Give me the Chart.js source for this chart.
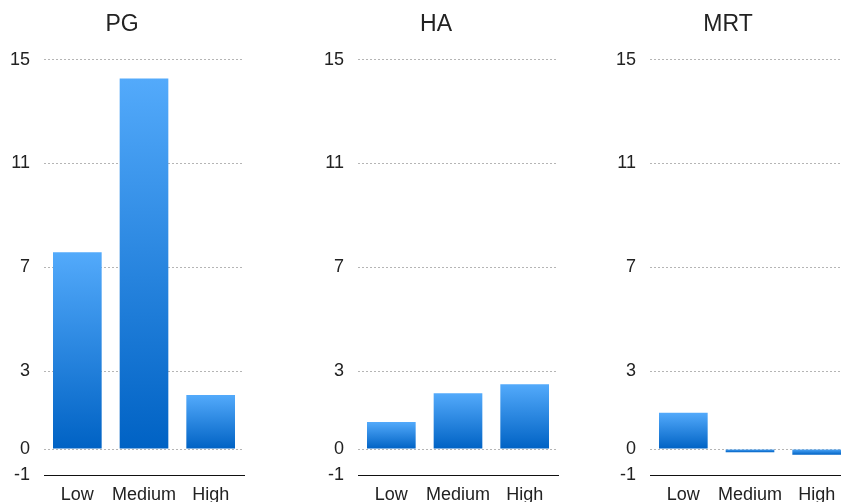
<!DOCTYPE html>
<html>
<head>
<meta charset="utf-8">
<script src="https://cdn.jsdelivr.net/npm/chart.js@4"></script>
<style>
  html, body { margin: 0; padding: 0; background: #fff; overflow: hidden; width: 841px; height: 502px; }
  .panel { position: absolute; top: 0; width: 288px; height: 520px; }
</style>
</head>
<body>
<div class="panel" style="left:0px"><canvas id="c0"></canvas></div>
<div class="panel" style="left:314px"><canvas id="c1"></canvas></div>
<div class="panel" style="left:606px"><canvas id="c2"></canvas></div>
<script>
const categories = ["Low", "Medium", "High"];
const panelTitles = ["PG", "HA", "MRT"];
const pgValues = [7.58, 14.27, 2.08];
const haValues = [1.04, 2.15, 2.50];
const mrtValues = [1.40, -0.12, -0.22];
const yTicks = [-1, 0, 3, 7, 11, 15];

const seriesList = [pgValues, haValues, mrtValues];
const FONT = "'Liberation Sans', Arial, Helvetica, sans-serif";

function barGradient(ctx) {
  const chart = ctx.chart;
  if (!chart.chartArea || !ctx.parsed) return '#2a86e6';
  const ys = chart.scales.y;
  const p1 = ys.getPixelForValue(ctx.parsed.y);
  const p0 = ys.getPixelForValue(0);
  const top = Math.min(p0, p1), bot = Math.max(p0, p1);
  if (bot - top < 1) return '#2a86e6';
  const g = chart.ctx.createLinearGradient(0, top, 0, bot);
  g.addColorStop(0, '#53aafb');
  g.addColorStop(1, '#0062c4');
  return g;
}

seriesList.forEach((vals, i) => {
  new Chart(document.getElementById('c' + i), {
    type: 'bar',
    data: {
      labels: categories,
      datasets: [{ data: vals, backgroundColor: barGradient, borderWidth: 0, barPercentage: 0.73, categoryPercentage: 1 }]
    },
    options: {
      responsive: true,
      maintainAspectRatio: false,
      animation: false,
      layout: { padding: { left: 0, right: 44, top: 0, bottom: 0 } },
      plugins: {
        legend: { display: false },
        tooltip: { enabled: false },
        title: {
          display: true,
          text: panelTitles[i],
          color: '#222',
          font: { family: FONT, size: 23, weight: 'normal', lineHeight: 1.2 },
          padding: { top: 11, bottom: 21 }
        }
      },
      scales: {
        x: {
          grid: { display: false, drawTicks: false },
          border: { display: true, color: '#111', width: 1 },
          ticks: { color: '#222', padding: 9, maxRotation: 0, minRotation: 0, autoSkip: false, font: { family: FONT, size: 18 } },
          afterFit: s => { s.height = 45; }
        },
        y: {
          min: -1,
          max: 15,
          afterBuildTicks: s => { s.ticks = yTicks.map(v => ({ value: v })); },
          grid: {
            drawTicks: false,
            color: c => (c.tick && c.tick.value === -1) ? 'rgba(0,0,0,0)' : '#b5b5b5',
            lineWidth: 1
          },
          border: { display: false, dash: [2, 2] },
          ticks: { color: '#222', padding: 14, font: { family: FONT, size: 18 } },
          afterFit: s => { s.width = 44; }
        }
      }
    }
  });
});
</script>
</body>
</html>
